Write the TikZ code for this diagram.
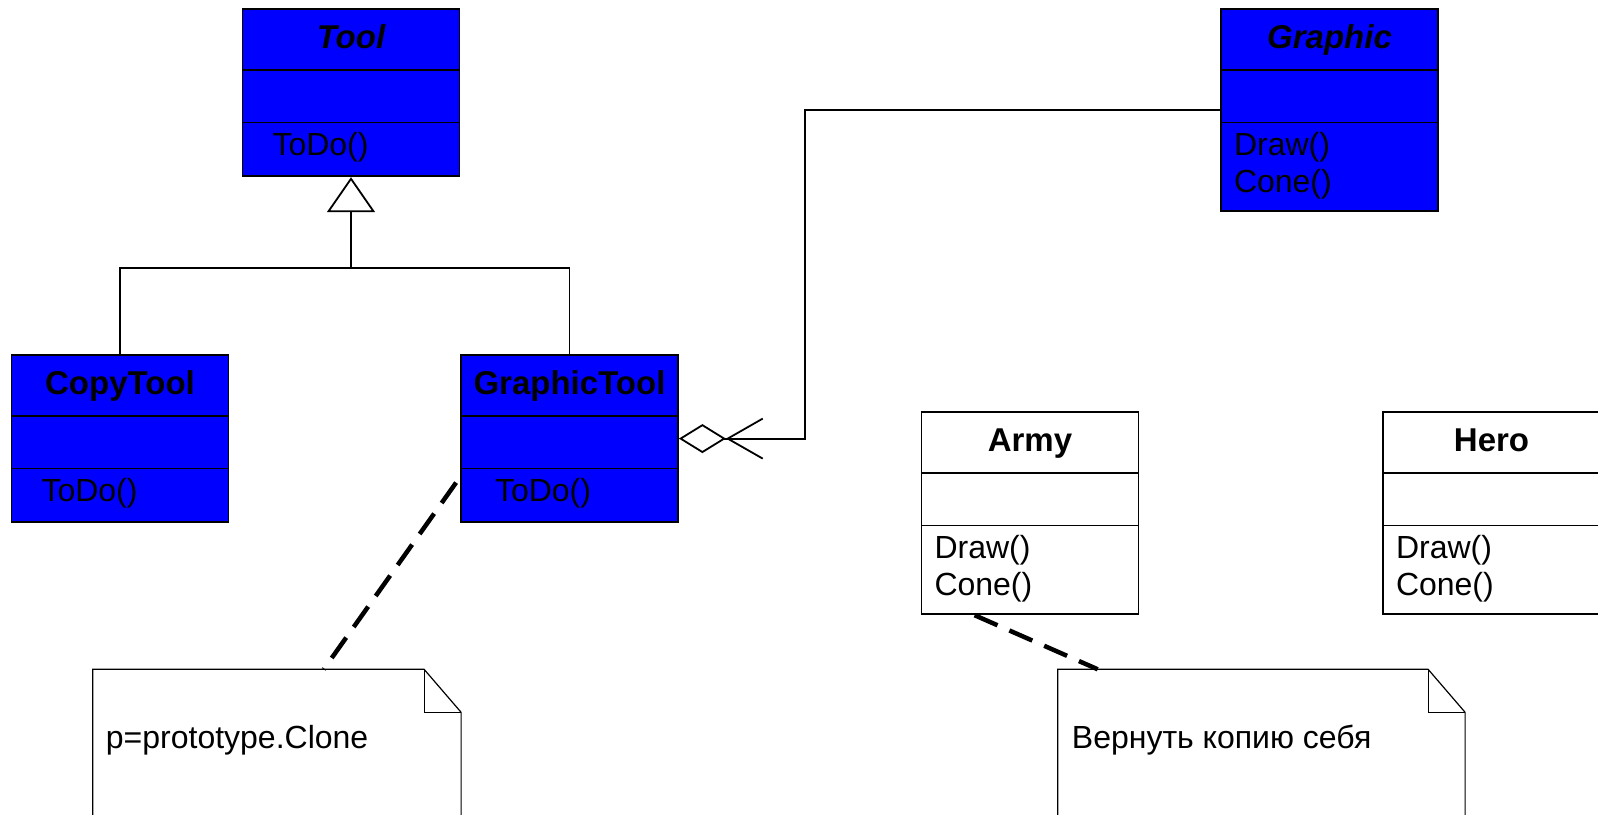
\documentclass[tikz,border=0pt]{standalone}
\usepackage{fontspec}
\setmainfont{Liberation Sans}
\usetikzlibrary{shapes.multipart,arrows.meta}

\tikzset{
  umlclass/.style={rectangle split, rectangle split parts=3, draw, line width=1.8pt,
    fill=blue, text width=205pt, inner xsep=6pt, inner ysep=0pt, align=left,
    anchor=north, font=\fontsize{32pt}{37.4pt}\selectfont},
  plainclass/.style={umlclass, fill=white},
  umlnote/.style={minimum width=#1, minimum height=200pt, anchor=north west, inner sep=0pt},
  notetext/.style={anchor=base west, inner sep=0pt, font=\fontsize{32pt}{37.4pt}\selectfont},
  inherit/.style={line width=1.8pt, -{Triangle[open,length=35pt,width=48pt]}},
  aggregate/.style={line width=1.8pt,
    -{Straight Barb[length=35pt,width=40pt]Diamond[open,length=47pt,width=29pt]}},
  noteline/.style={line width=4.5pt, dash pattern=on 25pt off 13pt},
}
\newcommand{\namepart}[1]{\rule[-20.5pt]{0pt}{59.5pt}\makebox[205pt][c]{\fontsize{33pt}{37.4pt}\selectfont\bfseries #1}}
\newcommand{\emptypart}{\rule{0pt}{50.5pt}}
\newcommand{\oneop}[1]{\rule[-19.5pt]{0pt}{52pt}#1}
\newcommand{\twoops}[2]{\rule{0pt}{32pt}\hspace*{7pt}#1\\\hspace*{7pt}#2\rule[-17.6pt]{0pt}{17.6pt}}

\begin{document}
\begin{tikzpicture}[x=1pt, y=-1pt]
  \path[use as bounding box, clip] (0,0) rectangle (1598,814);

  % tool hierarchy
  \node[umlclass] (Tool) at (351,8) {\namepart{\itshape Tool}
    \nodepart{second}\emptypart
    \nodepart{third}\oneop{\hspace*{24pt}ToDo()}};
  \node[umlclass] (CopyTool) at (120,354) {\namepart{CopyTool}
    \nodepart{second}\emptypart
    \nodepart{third}\oneop{\hspace*{24pt}ToDo()}};
  \node[umlclass] (GraphicTool) at (569.5,354) {\namepart{GraphicTool}
    \nodepart{second}\emptypart
    \nodepart{third}\oneop{\hspace*{28pt}ToDo()}};

  % graphics
  \node[umlclass] (Graphic) at (1329.5,8) {\namepart{\itshape Graphic}
    \nodepart{second}\emptypart
    \nodepart{third}\twoops{Draw()}{Cone()}};
  \node[plainclass] (Army) at (1030,411) {\namepart{Army}
    \nodepart{second}\emptypart
    \nodepart{third}\twoops{Draw()}{Cone()}};
  \node[plainclass] (Hero) at (1491.5,411) {\namepart{Hero}
    \nodepart{second}\emptypart
    \nodepart{third}\twoops{Draw()}{Cone()}};

  % notes
  \node[umlnote=368pt] (note1) at (92.7,669.3) {};
  \node[umlnote=407pt] (note2) at (1057.7,669.3) {};
  \foreach \n in {note1,note2} {
    \draw[line width=1.2pt] (\n.south west) -- (\n.north west)
      -- ([xshift=-37pt]\n.north east) -- ([yshift=-43pt]\n.north east) -- (\n.south east);
    \draw[line width=1.2pt] ([xshift=-37pt]\n.north east) |- ([yshift=-43pt]\n.north east);
  }
  \node[notetext] (clonetext) at ([xshift=13pt,yshift=-79pt]note1.north west) {p=prototype.Clone};
  \node[notetext] (copytext) at ([xshift=14pt,yshift=-79pt]note2.north west) {Вернуть копию себя};

  % connectors
  \coordinate (fork) at (Tool.south |- 0,268);
  \coordinate (bend) at (805,0);
  \draw[inherit] (CopyTool.north) |- (fork) -- (Tool.south);
  \draw[line width=1.8pt] (GraphicTool.north) |- (fork);
  \draw[aggregate] (Graphic.west) -| (bend |- GraphicTool.east) -- (GraphicTool.east);
  \draw[noteline] ([xshift=-4pt,yshift=-44pt]GraphicTool.west) -- ([xshift=231pt]note1.north west);
  \draw[noteline] ([xshift=54pt]Army.south west) -- ([xshift=40pt]note2.north west);
\end{tikzpicture}
\end{document}
